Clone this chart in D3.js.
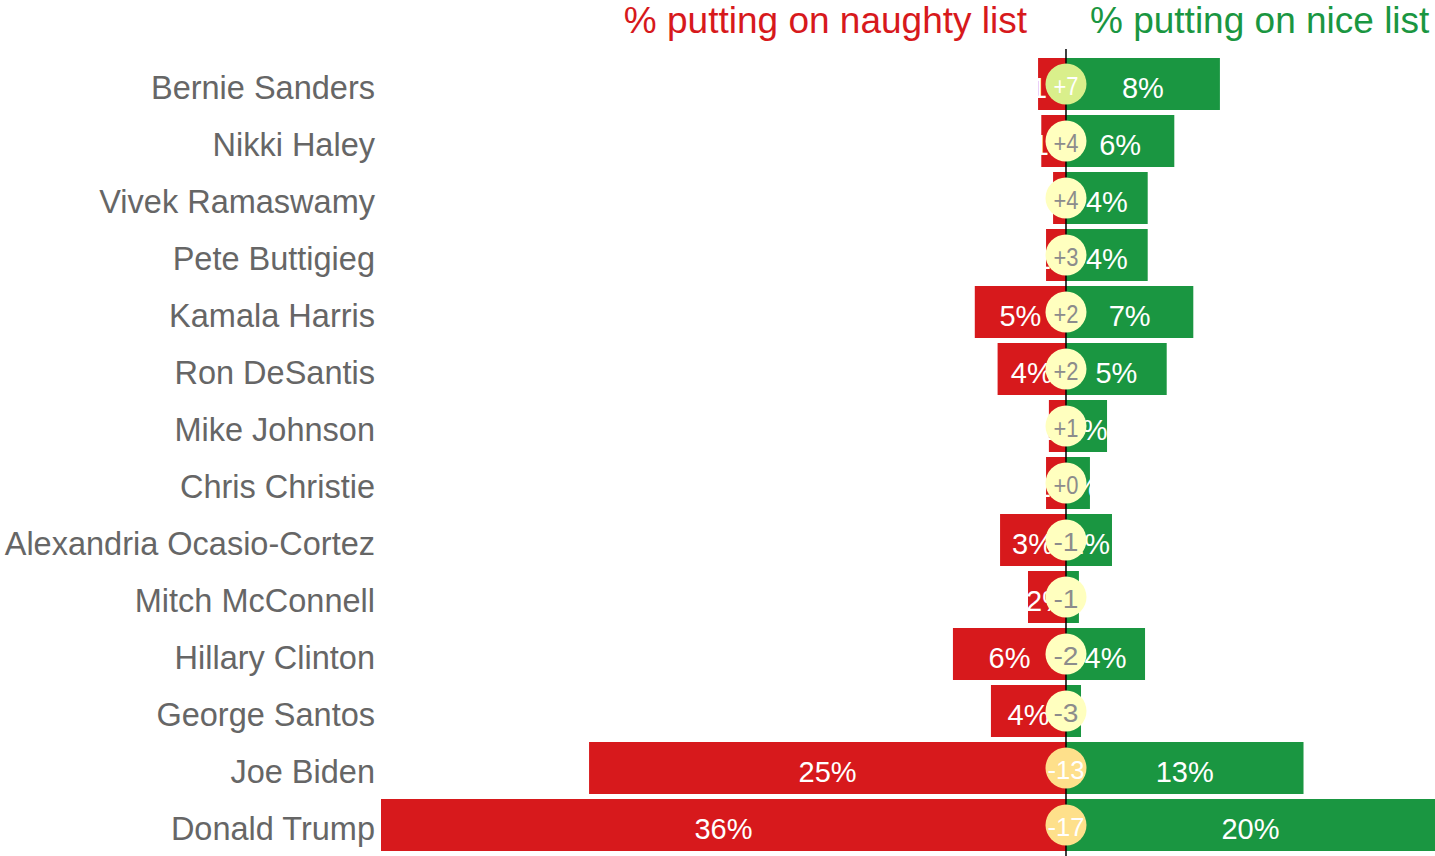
<!DOCTYPE html>
<html>
<head>
<meta charset="utf-8">
<script src="https://cdn.jsdelivr.net/npm/d3@7"></script>
<style>
  html, body { margin: 0; padding: 0; background: #fff; }
  svg { display: block; font-family: "Liberation Sans", Arial, sans-serif; }
</style>
</head>
<body>
<svg id="chart" width="1435" height="856"></svg>
<script>
const names = ["Bernie Sanders", "Nikki Haley", "Vivek Ramaswamy", "Pete Buttigieg", "Kamala Harris",
  "Ron DeSantis", "Mike Johnson", "Chris Christie", "Alexandria Ocasio-Cortez", "Mitch McConnell",
  "Hillary Clinton", "George Santos", "Joe Biden", "Donald Trump"];
const naughty = [1.47, 1.3, 0.68, 1.05, 4.8, 3.6, 0.9, 1.05, 3.47, 2.0, 5.95, 3.95, 25.1, 36.1];
const nice    = [8.1, 5.7, 4.3, 4.3, 6.7, 5.3, 2.16, 1.26, 2.42, 0.68, 4.16, 0.79, 12.5, 19.6];
const net     = [7, 4, 4, 3, 2, 2, 1, 0, -1, -1, -2, -3, -13, -17];
const titles  = ["% putting on naughty list", "% putting on nice list"];

const rows = names.map((n, i) => ({ name: n, naughty: naughty[i], nice: nice[i], net: net[i] }));

const W = 1435, H = 856;
const plotLeft = 381, plotRight = 1435;
const svg = d3.select("#chart");

const x = d3.scaleLinear().domain([-36.05, 19.42]).range([plotLeft, plotRight]);
const y = d3.scaleBand().domain(names).range([55.5, 853.5]).paddingInner(0.088).paddingOuter(0.044);

const RED = "#d7191c", GREEN = "#1a9641";

svg.append("defs").append("clipPath").attr("id", "plotclip")
  .append("rect").attr("x", plotLeft).attr("y", 0).attr("width", plotRight - plotLeft).attr("height", H);

const g = svg.append("g").attr("clip-path", "url(#plotclip)");

// naughty bars
g.selectAll("rect.naughty").data(rows).join("rect")
  .attr("class", "naughty")
  .attr("x", d => x(-d.naughty)).attr("width", d => x(0) - x(-d.naughty))
  .attr("y", d => y(d.name)).attr("height", y.bandwidth())
  .attr("fill", RED);

// nice bars
g.selectAll("rect.nice").data(rows).join("rect")
  .attr("class", "nice")
  .attr("x", x(0)).attr("width", d => x(d.nice) - x(0))
  .attr("y", d => y(d.name)).attr("height", y.bandwidth())
  .attr("fill", GREEN);

// center axis line
svg.append("line")
  .attr("x1", x(0)).attr("x2", x(0)).attr("y1", 49).attr("y2", H)
  .attr("stroke", "#000").attr("stroke-width", 1.5);

const mid = d => y(d.name) + y.bandwidth() / 2;
const visL = v => Math.max(x(-v), plotLeft);
const visR = v => Math.min(x(v), plotRight);

// value labels
g.selectAll("text.nl").data(rows).join("text")
  .attr("class", "nl")
  .attr("x", d => (visL(d.naughty) + x(0)) / 2).attr("y", d => mid(d) + 14)
  .attr("text-anchor", "middle")
  .attr("fill", "#fff").attr("font-size", 29)
  .text(d => Math.round(d.naughty) + "%");

g.selectAll("text.gl").data(rows).join("text")
  .attr("class", "gl")
  .attr("x", d => (visR(d.nice) + x(0)) / 2).attr("y", d => mid(d) + 14)
  .attr("text-anchor", "middle")
  .attr("fill", "#fff").attr("font-size", 29)
  .text(d => Math.round(d.nice) + "%");

// net circles
const circFill = v => v >= 5 ? "#d9ef8b" : (v <= -5 ? "#fee08b" : "#ffffbf");
const circText = v => (v >= 5 || v <= -5) ? "#ffffff" : "#8c8c8c";
const fmt = v => (v >= 0 ? "+" : "-") + Math.abs(v);

svg.selectAll("circle.net").data(rows).join("circle")
  .attr("class", "net")
  .attr("cx", x(0)).attr("cy", d => mid(d)).attr("r", 20.5)
  .attr("fill", d => circFill(d.net));

svg.selectAll("text.net").data(rows).join("text")
  .attr("class", "net")
  .attr("x", x(0)).attr("y", d => mid(d) + 11)
  .attr("text-anchor", "middle")
  .attr("fill", d => circText(d.net)).attr("font-size", 25)
  .attr("textLength", d => fmt(d.net).length > 2 ? 37 : 25)
  .attr("lengthAdjust", "spacingAndGlyphs")
  .text(d => fmt(d.net));

// category labels
svg.selectAll("text.name").data(rows).join("text")
  .attr("class", "name")
  .attr("x", 375).attr("y", d => mid(d) + 15)
  .attr("text-anchor", "end")
  .attr("fill", "#666666").attr("font-size", 32.5)
  .text(d => d.name);

// titles
svg.append("text").attr("x", 1027).attr("y", 33).attr("text-anchor", "end")
  .attr("fill", RED).attr("font-size", 37).text(titles[0]);
svg.append("text").attr("x", 1090).attr("y", 33).attr("text-anchor", "start")
  .attr("fill", GREEN).attr("font-size", 37).text(titles[1]);
</script>
</body>
</html>
